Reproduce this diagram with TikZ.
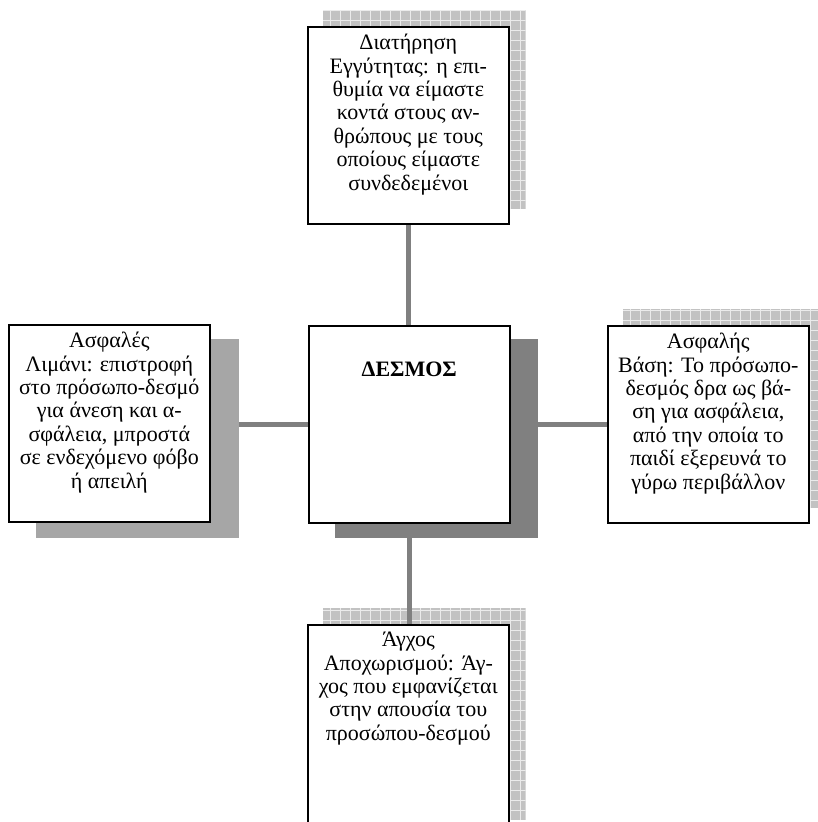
\documentclass[tikz,border=0pt]{standalone}
\usepackage{fontspec}
\setmainfont{Liberation Serif}
\pgfdeclarelayer{gridlayer}
\pgfdeclarelayer{conlayer}
\pgfdeclarelayer{shadlayer}
\pgfsetlayers{gridlayer,conlayer,shadlayer,main}
\tikzset{
  box/.style={draw=black, line width=1.6pt, fill=white, minimum width=201pt, minimum height=197pt, inner sep=0pt, anchor=north west},
  txt/.style={align=center, inner sep=0pt, anchor=north, font=\fontsize{22pt}{23.4pt}\selectfont},
  conn/.style={draw=black!50, line width=5.5pt},
  gridfill/.style={fill=black!24},
  gridline/.style={draw=black!8, line width=0.8pt},
  darkshadow/.style={fill=black!50},
  lightshadow/.style={fill=black!35},
}
\begin{document}
\begin{tikzpicture}[x=1pt,y=-1pt]
\useasboundingbox (0,0) rectangle (817,822);
% boxes
\node[box] (top) at (307,26) {};
\node[box] (center) at (308,325) {};
\node[box] (left) at (8,324) {};
\node[box] (right) at (607,325) {};
\node[box, minimum height=210pt] (bottom) at (307,624) {};
% texts
\node[txt] (toptxt) at ([yshift=-8pt]top.north) {Διατήρηση\\Εγγύτητας: η επι-\\θυμία να είμαστε\\κοντά στους αν-\\θρώπους με τους\\οποίους είμαστε\\συνδεδεμένοι};
\node[txt, font=\fontsize{22pt}{23.4pt}\selectfont\bfseries] (centertxt) at ([yshift=-37pt]center.north) {ΔΕΣΜΟΣ};
\node[txt] (lefttxt) at ([yshift=-8pt]left.north) {Ασφαλές\\Λιμάνι: επιστροφή\\στο πρόσωπο-δεσμό\\για άνεση και α-\\σφάλεια, μπροστά\\σε ενδεχόμενο φόβο\\ή απειλή};
\node[txt] (righttxt) at ([yshift=-8pt]right.north) {Ασφαλής\\Βάση: Το πρόσωπο-\\δεσμός δρα ως βά-\\ση για ασφάλεια,\\από την οποία το\\παιδί εξερευνά το\\γύρω περιβάλλον};
\node[txt] (bottomtxt) at ([yshift=-8pt]bottom.north) {Άγχος\\Αποχωρισμού: Άγ-\\χος που εμφανίζεται\\στην απουσία του\\προσώπου-δεσμού};
% grid shadows
\begin{pgfonlayer}{gridlayer}
\foreach \n in {top,right,bottom}{
  \begin{scope}
    \clip ([shift={(16,-16)}]\n.south west) rectangle ([shift={(16,-16)}]\n.north east);
    \fill[gridfill] ([shift={(16,-16)}]\n.south west) rectangle ([shift={(16,-16)}]\n.north east);
    \draw[gridline, step=10pt] (0,0) grid (830,830);
  \end{scope}
}
\end{pgfonlayer}
% connectors
\begin{pgfonlayer}{conlayer}
\draw[conn] (top.south) -- (top.south |- center.north);
\draw[conn] (center.south) -- (center.south |- bottom.north);
\draw[conn] (left.east |- center.west) -- (center.west);
\draw[conn] (center.east) -- (center.east -| right.west);
\end{pgfonlayer}
% solid shadows
\begin{pgfonlayer}{shadlayer}
\fill[darkshadow] ([shift={(27,14)}]center.south west) rectangle ([shift={(27,14)}]center.north east);
\fill[lightshadow] ([shift={(28,15)}]left.south west) rectangle ([shift={(28,15)}]left.north east);
\end{pgfonlayer}
\end{tikzpicture}
\end{document}
